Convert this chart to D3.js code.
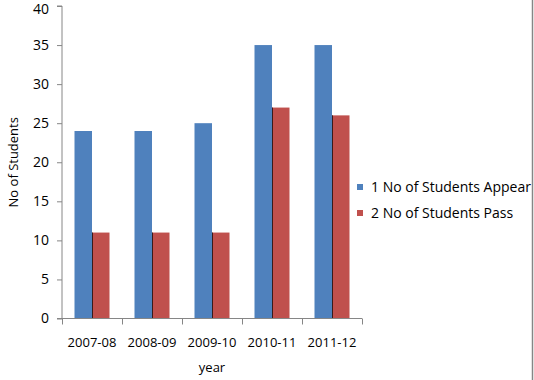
<!DOCTYPE html>
<html>
<head>
<meta charset="utf-8">
<script src="https://cdn.jsdelivr.net/npm/d3@7"></script>
<style>
  body { margin: 0; background: #fff; }
  svg { display: block; }
</style>
</head>
<body>
<div id="field"></div>
<script>
'use strict';

// data
const years = ['2007-08', '2008-09', '2009-10', '2010-11', '2011-12'];
const appear = [24, 24, 25, 35, 35];
const pass = [11, 11, 11, 27, 26];
const seriesNames = ['1 No of Students Appear', '2 No of Students Pass'];
const yTicks = [0, 5, 10, 15, 20, 25, 30, 35, 40];

const w = 534, h = 380,
      padL = 62, padR = 362, padT = 6, padB = 318.5,
      blue = '#4F81BD', red = '#C0504D', axisCol = '#868686',
      font = '"Open Sans", sans-serif';

const svg = d3.select('#field').append('svg').attr('width', w).attr('height', h);

// frame on the right edge
svg.append('line').attr('x1', w - 1.5).attr('x2', w - 1.5).attr('y1', 0).attr('y2', h)
   .attr('stroke', axisCol).attr('stroke-width', 1.5);

const x = d3.scaleBand().domain(years).range([padL, padR])
            .paddingInner(25 / 60).paddingOuter(12.5 / 60);
const sub = d3.scaleBand().domain([0, 1]).range([0, x.bandwidth()]);
const y = d3.scaleLinear().domain([0, 40]).range([padB, padT]);

// bars
const groups = svg.selectAll('g.grp').data(years).enter().append('g')
  .attr('class', 'grp')
  .attr('transform', d => 'translate(' + x(d) + ',0)');

groups.append('rect')
  .attr('x', sub(0)).attr('width', sub.bandwidth())
  .attr('y', (d, i) => y(appear[i])).attr('height', (d, i) => y(0) - y(appear[i]))
  .attr('fill', blue);

groups.append('rect')
  .attr('x', sub(1)).attr('width', sub.bandwidth())
  .attr('y', (d, i) => y(pass[i])).attr('height', (d, i) => y(0) - y(pass[i]))
  .attr('fill', red);

// thin dark edge between the two bars
groups.append('line')
  .attr('x1', sub(1) + 0.5).attr('x2', sub(1) + 0.5)
  .attr('y1', (d, i) => y(pass[i])).attr('y2', y(0))
  .attr('stroke', '#3a1a1a').attr('stroke-width', 1);

// y axis
const yAxis = svg.append('g').attr('transform', 'translate(' + padL + ',0)')
  .call(d3.axisLeft(y).tickValues(yTicks).tickSize(5).tickPadding(8));
yAxis.select('.domain').attr('stroke', axisCol).attr('d', 'M-5,' + padT + 'H0V' + padB + 'H-5');
yAxis.selectAll('.tick line').attr('stroke', axisCol);
yAxis.selectAll('.tick text').attr('font-family', font).attr('font-size', '14px').attr('fill', '#000')
  .attr('dy', d => d === 40 ? '0.52em' : '0.32em');

// x axis with ticks at band edges
const xAxis = svg.append('g').attr('transform', 'translate(0,' + padB + ')');
xAxis.append('line').attr('x1', padL).attr('x2', padR).attr('y1', 0).attr('y2', 0).attr('stroke', axisCol);
const edges = d3.range(years.length + 1).map(i => padL + i * x.step());
xAxis.selectAll('line.tk').data(edges).enter().append('line').attr('class', 'tk')
  .attr('x1', d => d + 0.5).attr('x2', d => d + 0.5).attr('y1', 0).attr('y2', 6).attr('stroke', axisCol);
xAxis.selectAll('text').data(years).enter().append('text')
  .attr('x', d => x(d) + x.bandwidth() / 2).attr('y', 28)
  .attr('text-anchor', 'middle').attr('font-family', font).attr('font-size', '13px')
  .text(d => d);

// axis titles
svg.append('text').attr('x', (padL + padR) / 2).attr('y', 372)
  .attr('text-anchor', 'middle').attr('font-family', font).attr('font-size', '13px').text('year');
svg.append('text').attr('transform', 'translate(18,' + ((padT + padB) / 2) + ') rotate(-90)')
  .attr('text-anchor', 'middle').attr('font-family', font).attr('font-size', '13px').text('No of Students');

// legend
const legend = svg.selectAll('g.leg').data(seriesNames).enter().append('g')
  .attr('class', 'leg')
  .attr('transform', (d, i) => 'translate(357,' + (187 + i * 26) + ')');
legend.append('rect').attr('x', 0).attr('y', -3).attr('width', 6).attr('height', 6)
  .attr('fill', (d, i) => i === 0 ? blue : red);
legend.append('text').attr('x', 14).attr('y', 5)
  .attr('font-family', font).attr('font-size', '14px').text(d => d);
</script>
</body>
</html>
